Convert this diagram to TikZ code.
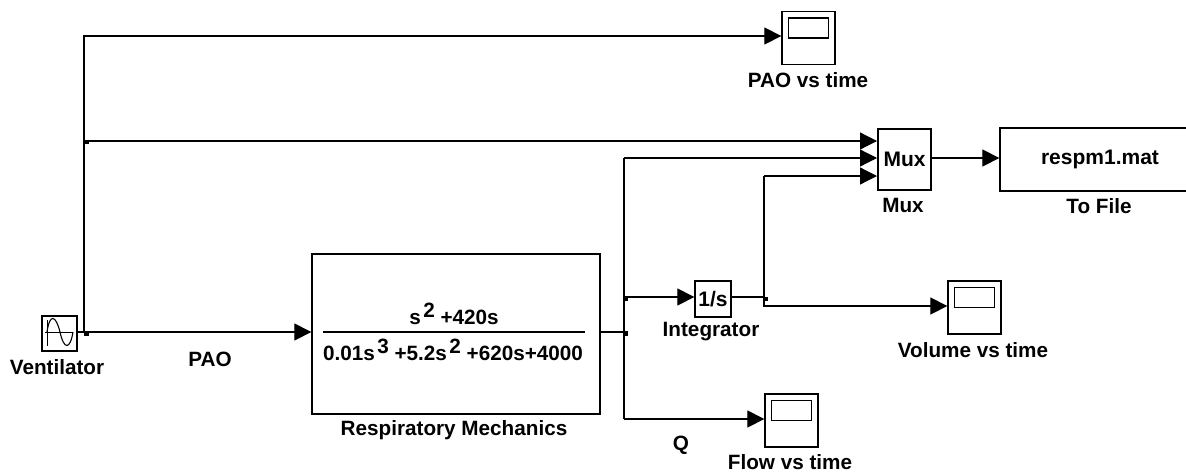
\documentclass[tikz,border=0pt]{standalone}
\usepackage{fontspec}
\setmainfont{Liberation Sans}
\usetikzlibrary{arrows.meta}
\tikzset{
  x=1pt,y=-1pt,
  blk/.style={draw=black,line width=1.3pt,minimum width=0pt,minimum height=0pt,inner sep=0pt,rectangle,font=\fontsize{21}{24}\selectfont\bfseries},
  lbl/.style={inner sep=0pt,font=\fontsize{20.7}{24}\selectfont\bfseries},
  eqn/.style={inner sep=0pt,font=\fontsize{20.7}{24}\selectfont\bfseries},
  wire/.style={line width=1.2pt,-{Triangle[length=17pt,width=17pt]}},
  plain/.style={line width=1.2pt},
  jdot/.style={fill=black,inner sep=0pt,minimum size=4.5pt,rectangle},
  scopebox/.style={blk,minimum width=53pt,minimum height=53pt},
}
\newcommand{\scopescreen}[1]{\draw[line width=1.3pt] ([shift={(7pt,-7pt)}]#1.north west) rectangle ([shift={(-7pt,-27pt)}]#1.north east);}
\newcommand{\supr}[1]{\kern2.5pt\raisebox{7pt}{#1}}
\begin{document}
\begin{tikzpicture}
\useasboundingbox (0,0) rectangle (1186,472);
% blocks
\node[blk,minimum width=35pt,minimum height=35pt] (vent) at (59.5,333.5) {};
\draw[line width=1pt] (47,320) -- (47,346);
\draw[line width=1pt] (45,332) -- (73,332);
\draw[line width=1.1pt] (47,332) .. controls (50,312) and (56,316) .. (60,332) .. controls (64,350) and (70,350) .. (73,332);
\node[blk,minimum width=288pt,minimum height=160pt] (tf) at (456,334) {};
\coordinate (fl) at (323,332);
\coordinate (fr) at (585,332);
\draw[line width=1.2pt] (fl) -- (fr);
\node[eqn,anchor=base] (num) at (454,324) {s\supr{2} +420s};
\node[eqn,anchor=base] (den) at (453,360) {0.01s\supr{3} +5.2s\supr{2} +620s+4000};
\node[blk,minimum width=36pt,minimum height=36pt] (int) at (713,299) {1/s};
\node[blk,minimum width=53pt,minimum height=61pt] (mux) at (904.5,159.5) {Mux};
\node[blk,minimum width=200pt,minimum height=63pt] (file) at (1100,159.5) {respm1.mat};
\node[scopebox] (s1) at (808.5,38) {};
\node[scopebox] (s2) at (974.5,307.5) {};
\node[scopebox] (s3) at (791.5,420.5) {};
\scopescreen{s1}\scopescreen{s2}\scopescreen{s3}
% junctions and bends
\coordinate (a) at (84,332);
\coordinate (b) at (84,141);
\coordinate (c) at (84,36);
\node[jdot] (ja) at (86.5,333.5) {};
\node[jdot] (jb) at (86.5,142) {};
\coordinate (d) at (624,332);
\node[jdot] (jd) at (626,333.5) {};
\coordinate (e) at (624,297);
\node[jdot] (je) at (626,299) {};
\coordinate (f) at (624,158);
\coordinate (g) at (624,419);
\coordinate (h) at (764,297);
\node[jdot] (jh) at (766,299) {};
\coordinate (i) at (764,176);
\coordinate (k) at (764,306);
% target points on block edges
\coordinate (m1) at (877,141);
\coordinate (m2) at (877,158);
\coordinate (m3) at (877,176);
% connectors
\draw[plain] (vent.east |- a) -- (a);
\draw[wire] (a) -- (a -| tf.west);
\draw[wire] (a) -- (c) -- (c -| s1.west);
\draw[wire] (b) -- (m1);
\draw[plain] (tf.east |- d) -- (d);
\draw[wire] (g) -- (g -| s3.west);
\draw[plain] (f) -- (g);
\draw[wire] (f) -- (m2);
\draw[wire] (e) -- (e -| int.west);
\draw[plain] (int.east |- h) -- (h);
\draw[wire] (i) -- (m3);
\draw[wire] (i) -- (k) -- (k -| s2.west);
\draw[wire] (mux.east |- m2) -- (m2 -| file.west);
% labels
\node[lbl] (l1) at (57,367) {Ventilator};
\node[lbl] (l2) at (210,359) {PAO};
\node[lbl] (l3) at (454,430) {Respiratory Mechanics};
\node[lbl] (l4) at (711,332) {Integrator};
\node[lbl] (l5) at (973,350) {Volume vs time};
\node[lbl,anchor=base] (l6) at (790,469.5) {Flow vs time};
\node[lbl] (l7) at (681,445) {Q};
\node[lbl] (l8) at (808,80) {PAO vs time};
\node[lbl] (l9) at (903,205) {Mux};
\node[lbl] (l10) at (1099,206) {To File};
\end{tikzpicture}
\end{document}
